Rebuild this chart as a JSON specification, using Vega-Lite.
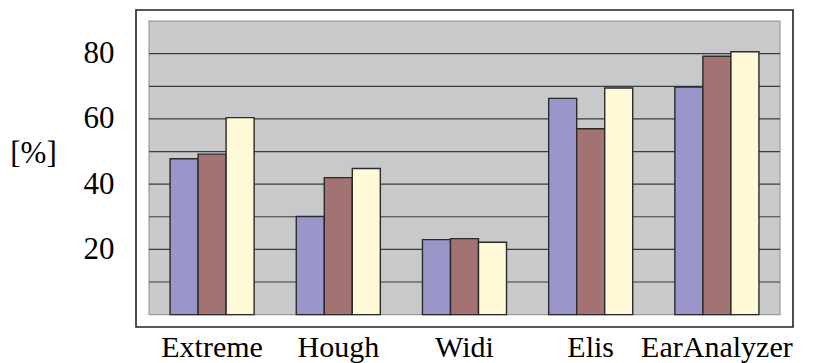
{
  "$schema": "https://vega.github.io/schema/vega-lite/v6.json",
  "autosize": {"type": "none"},
  "width": 657,
  "height": 317,
  "padding": {"left": 136, "top": 10, "right": 36, "bottom": 36},
  "background": "white",
  "config": {
    "view": {"stroke": "#222222", "strokeWidth": 1.6, "fill": "white"},
    "font": "Liberation Serif"
  },
  "datasets": {
    "scores": [
      {"method": "Extreme", "series": "A", "value": 47.8},
      {"method": "Extreme", "series": "B", "value": 49.2},
      {"method": "Extreme", "series": "C", "value": 60.4},
      {"method": "Hough", "series": "A", "value": 30.1},
      {"method": "Hough", "series": "B", "value": 42.0},
      {"method": "Hough", "series": "C", "value": 44.8},
      {"method": "Widi", "series": "A", "value": 23.0},
      {"method": "Widi", "series": "B", "value": 23.3},
      {"method": "Widi", "series": "C", "value": 22.2},
      {"method": "Elis", "series": "A", "value": 66.3},
      {"method": "Elis", "series": "B", "value": 57.0},
      {"method": "Elis", "series": "C", "value": 69.5},
      {"method": "EarAnalyzer", "series": "A", "value": 69.8},
      {"method": "EarAnalyzer", "series": "B", "value": 79.2},
      {"method": "EarAnalyzer", "series": "C", "value": 80.6}
    ],
    "panel": [{"left": 0, "right": 100, "bottom": 0, "top": 90}],
    "gridlines": [
      {"level": 10}, {"level": 20}, {"level": 30}, {"level": 40},
      {"level": 50}, {"level": 60}, {"level": 70}, {"level": 80}
    ]
  },
  "layer": [
    {
      "data": {"name": "panel"},
      "mark": {"type": "rect", "fill": "#c8c9cb", "stroke": "#9a9a9a", "strokeWidth": 1.2},
      "encoding": {
        "x": {"field": "left", "type": "quantitative", "scale": {"domain": [-2.06, 102.06], "nice": false, "zero": false}, "axis": null},
        "x2": {"field": "right"},
        "y": {
          "field": "bottom",
          "type": "quantitative",
          "scale": {"domain": [-3.8, 93.4], "nice": false, "zero": false},
          "axis": {
            "values": [20, 40, 60, 80],
            "domain": false,
            "ticks": false,
            "grid": false,
            "labelFont": "Liberation Serif",
            "labelFontSize": 31,
            "labelColor": "black",
            "labelPadding": 22,
            "labelBaseline": "middle",
            "title": "[%]",
            "titleFont": "Liberation Serif",
            "titleFontSize": 31,
            "titleFontWeight": "normal",
            "titleColor": "black",
            "titleAngle": 0,
            "titleAlign": "center",
            "titleBaseline": "middle",
            "titleX": -103,
            "titleY": 143
          }
        },
        "y2": {"field": "top"}
      }
    },
    {
      "data": {"name": "gridlines"},
      "mark": {"type": "rule", "stroke": "#3c3c3c", "strokeWidth": 1.2},
      "encoding": {
        "x": {"datum": 0, "type": "quantitative", "scale": {"domain": [-2.06, 102.06], "nice": false, "zero": false}, "axis": null},
        "x2": {"datum": 100},
        "y": {"field": "level", "type": "quantitative"}
      }
    },
    {
      "data": {"name": "scores"},
      "mark": {"type": "bar", "stroke": "#2a2a2a", "strokeWidth": 1.4},
      "encoding": {
        "x": {
          "field": "method",
          "type": "nominal",
          "sort": null,
          "scale": {"paddingInner": 0.334, "paddingOuter": 0.27},
          "axis": {
            "title": null,
            "orient": "bottom",
            "domain": false,
            "ticks": false,
            "labelFont": "Liberation Serif",
            "labelFontSize": 30,
            "labelColor": "black",
            "labelAngle": 0,
            "labelBaseline": "alphabetic",
            "labelPadding": 29,
            "labelFlush": false,
            "labelOverlap": false,
            "encode": {
              "labels": {"update": {"dx": {"signal": "datum.value === 'EarAnalyzer' ? 22 : datum.value === 'Hough' ? 4 : 0"}}}
            }
          }
        },
        "xOffset": {"field": "series", "type": "nominal", "scale": {"paddingInner": 0, "paddingOuter": 0}},
        "y": {"field": "value", "type": "quantitative"},
        "fill": {
          "field": "series",
          "type": "nominal",
          "scale": {"domain": ["A", "B", "C"], "range": ["#9a96c9", "#a37373", "#fff9d8"]},
          "legend": null
        }
      }
    }
  ],
  "resolve": {"scale": {"x": "independent"}}
}
